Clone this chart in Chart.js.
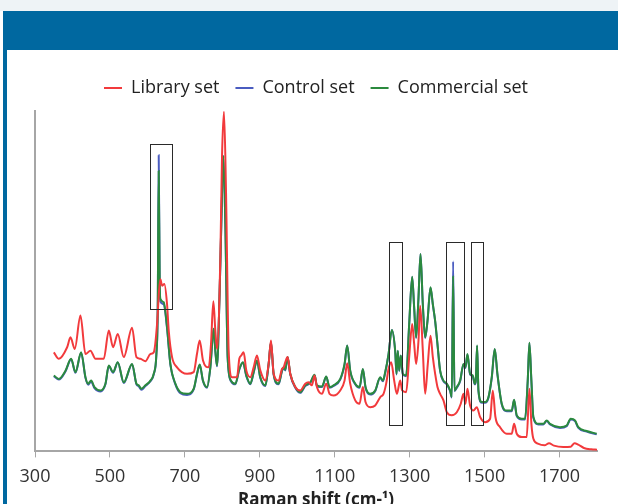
<!DOCTYPE html>
<html>
<head>
<meta charset="utf-8">
<script src="https://cdn.jsdelivr.net/npm/chart.js@4.4.0/dist/chart.umd.min.js"></script>
<style>
  html, body { margin: 0; padding: 0; background: #fff; overflow: hidden; }
  #page { position: relative; width: 618px; height: 504px; overflow: hidden; }
  #topStrip { position: absolute; left: 0; top: 0; width: 618px; height: 11px; background: #eef3f6; }
  #header { position: absolute; left: 3px; top: 11px; width: 615px; height: 39px; background: #0068a0; }
  #sideBar { position: absolute; left: 3px; top: 50px; width: 4px; height: 454px; background: #0068a0; }
  #chartBox { position: absolute; left: 7px; top: 50px; width: 611px; height: 459px; }
</style>
</head>
<body>
<div id="page">
  <div id="topStrip"></div>
  <div id="header"></div>
  <div id="sideBar"></div>
  <div id="chartBox"><canvas id="chart" width="611" height="459"></canvas></div>
</div>
<script>
// x ticks shown under the axis
const tickValues = [300, 500, 700, 900, 1100, 1300, 1500, 1700];

// [Raman shift, intensity]
const librarySet = [
  [350.2,29.1],[363.6,27.2],[385.8,30.6],[394.7,33.5],[406.2,30.1],[421.3,39.9],[434.7,28.6],[448,29.6],[461.3,27.2],[483.6,27.2],
  [496.9,35.5],[508.4,30.6],[520.9,34.5],[536.9,27.7],[559.1,36.3],[570.7,27.7],[581.3,27.2],[594.7,26.5],[608,28.6],[616.9,29.1],
  [625.8,37.4],[631.1,47.2],[634.7,50.6],[639.1,48.7],[645.3,49.2],[652.4,43.3],[656.9,35.5],[665.8,27.7],[679.1,24.7],[705.8,22.8],
  [723.6,23.3],[732.4,28.7],[739.6,32.6],[748.4,26.7],[763.6,24.7],[769.8,31.6],[776,44.1],[781.3,35.5],[785.8,30.1],[794.7,57],
  [799.1,86.3],[804.4,99.8],[809.8,76.5],[816.9,29.6],[825.8,21.8],[839.1,21.8],[845.3,27.2],[850.7,28.2],[856.9,29.1],[864,23.8],
  [874.7,21.8],[883.6,24.7],[892.4,28.2],[901.3,23.8],[914.7,20.8],[923.6,25.7],[929.8,32.6],[936.9,22.8],[950.2,20.8],[959.1,24.2],
  [963.6,24.7],[968,26.2],[974.2,27.7],[981.3,22.8],[994.7,18.9],[1008,17.9],[1021.3,19.9],[1030.2,20.3],[1039.1,19.4],[1046.2,22.3],
  [1052.4,18.9],[1065.8,16.9],[1077.3,19.9],[1086.2,16.9],[1096.9,16.4],[1114.7,17.9],[1126.2,20.8],[1133.3,25.9],[1141.3,19.9],[1154.7,15],
  [1166.2,14],[1175.1,18.9],[1182.2,14.5],[1194.7,13],[1208,13.5],[1221.3,15.9],[1230.2,16.9],[1237.3,19.9],[1243.6,24.2],[1250.7,26.2],
  [1258.7,20.8],[1265.8,16.9],[1274.7,20.8],[1280,17.9],[1290.7,17.4],[1298.7,27.7],[1306.7,37.4],[1312,31.6],[1317.3,25.7],[1323.6,32.6],
  [1328,42.8],[1335.1,29.6],[1341.3,16.9],[1348.4,25.7],[1355.6,34],[1361.8,27.7],[1368,22.8],[1374.2,18.9],[1381.3,16.9],[1390.2,15],
  [1399.1,11.5],[1412.4,10.6],[1425.8,11.5],[1436.4,14],[1443.6,16.9],[1448.9,14],[1454.2,18.4],[1461.3,13.5],[1470.2,12],[1479.1,13],
  [1488,10.1],[1501.3,8.6],[1514.7,9.6],[1521.8,17.9],[1528.9,10.1],[1541.3,7.1],[1559.1,5.2],[1572.4,5.2],[1578.7,8.1],[1585.8,5.2],
  [1599.1,4.2],[1612.4,4.2],[1619.6,18.4],[1624.9,8.1],[1630.2,3.7],[1642,2.3],[1660,1.8],[1672,2.4],[1685,1.7],[1710,1.3],
  [1730,1.4],[1740,2.4],[1750,2],[1765,1],[1785,0.6],[1800,0.5]
];

const controlSet = [
  [350.2,22.1],[363.6,21.1],[381.3,23.5],[396.4,27.1],[408,23.1],[423.1,29],[434.7,21.6],[441.8,19.6],[449.8,20.5],[458.7,18.6],
  [474.7,17.6],[488,19.7],[496.9,25.1],[508.4,23.1],[520.9,26.1],[536.9,20.1],[559.1,25.6],[570.7,19.7],[576.9,19.1],[584,18.1],
  [594.7,19.2],[608,20.6],[616.9,22.6],[624,28.5],[627.6,42.3],[630.2,87],[632.9,48.5],[634.7,44],[643.6,43.2],[652.4,36.2],
  [661.3,25.5],[674.7,19.7],[688,17.1],[705.8,16.6],[723.6,18.2],[732.4,22.6],[739.6,25.4],[748.4,20.6],[759.1,18.7],[768,24.6],
  [776.9,36],[781.3,29.4],[785.8,25],[792.9,47.2],[797.3,66.8],[802.7,86.8],[808,66.8],[814.2,27.5],[823.1,20.6],[834.7,19.7],
  [845.3,24],[855.1,26.1],[864,22.1],[874.7,19.7],[883.6,23.1],[892.4,26.6],[901.3,21.6],[914.7,19.2],[923.6,25.6],[929.8,32.1],
  [936.9,22.6],[950.2,19.7],[959.1,23.5],[963.6,24.5],[968,23.8],[974.2,27.6],[981.3,22.6],[994.7,18.7],[1008,17.2],[1021.3,19.2],
  [1034.7,20.1],[1046.2,22.4],[1052.4,19.2],[1065.8,18.9],[1077.3,21.9],[1086.2,18.7],[1096.9,19.2],[1114.7,21.1],[1126.2,25.5],[1133.3,31.1],
  [1141.3,23.6],[1154.7,19.7],[1166.2,18.7],[1175.1,24.1],[1182.2,18.7],[1194.7,16.7],[1208,17.7],[1221.3,21.6],[1228.4,20.6],[1234.7,23.1],
  [1243.6,28.5],[1252.4,35.7],[1261.3,29.5],[1264.9,22.6],[1268.4,29.5],[1272,23.6],[1276.4,28.1],[1281.8,22.6],[1290.7,22.1],[1298.7,37.3],
  [1306.7,51.2],[1312,42.1],[1317.3,33.3],[1323.6,45.2],[1328.9,58],[1335.1,43.1],[1341.3,33.3],[1347.6,38.3],[1355.6,48.1],[1361.8,43.1],
  [1368,38.2],[1374.2,31.4],[1381.3,23.6],[1390.2,20.6],[1399.1,19.7],[1408,17.7],[1412.4,15.8],[1416,55.8],[1419.6,17.7],[1425.8,18.7],
  [1434.7,20.6],[1443.6,25.5],[1448.9,24.5],[1454.2,28.5],[1461.3,22.6],[1468.4,22.1],[1473.8,19.7],[1476.4,20.6],[1480,31],[1483.6,17.7],
  [1492.4,14.3],[1501.3,14.3],[1510.2,15.7],[1519.1,21.6],[1527.1,30],[1534.2,22.6],[1545.8,13.8],[1559.1,11.8],[1572.4,11.8],[1578.7,15],
  [1585.8,10.4],[1599.1,9.4],[1608,9.4],[1615.1,20.6],[1619.6,31.8],[1624.9,20.6],[1630.2,9.9],[1643.6,7.9],[1656.9,7.9],[1665.8,8.9],
  [1674.7,7.9],[1701.3,6.9],[1719.1,7.4],[1729.8,9.4],[1741.3,8.9],[1750.2,6.9],[1772.4,5.8],[1799.1,5]
];

const commercialSet = [
  [350.2,22.3],[363.6,21.3],[381.3,23.7],[396.4,27.2],[408,23.3],[423.1,29.1],[434.7,21.8],[441.8,19.9],[449.8,20.8],[458.7,18.9],
  [474.7,17.9],[488,19.9],[496.9,25.2],[508.4,23.3],[520.9,26.2],[536.9,20.3],[559.1,25.7],[570.7,19.9],[576.9,19.4],[584,18.4],
  [594.7,19.4],[608,20.8],[616.9,22.8],[624,28.6],[627.6,42.3],[630.2,82.4],[632.9,49.2],[634.7,44.8],[643.6,43.8],[652.4,36.5],
  [661.3,25.7],[674.7,19.9],[688,17.4],[705.8,16.9],[723.6,18.4],[732.4,22.8],[739.6,25.5],[748.4,20.8],[759.1,18.9],[768,24.7],
  [776.9,36],[781.3,29.6],[785.8,25.2],[792.9,47.2],[797.3,66.8],[802.7,86.8],[808,66.8],[814.2,27.7],[823.1,20.8],[834.7,19.9],
  [845.3,24.2],[855.1,26.2],[864,22.3],[874.7,19.9],[883.6,23.3],[892.4,26.7],[901.3,21.8],[914.7,19.4],[923.6,25.7],[929.8,32.1],
  [936.9,22.8],[950.2,19.9],[959.1,23.7],[963.6,24.7],[968,24],[974.2,27.7],[981.3,22.8],[994.7,18.9],[1008,17.4],[1021.3,19.4],
  [1034.7,20.3],[1046.2,22.5],[1052.4,19.4],[1065.8,19.1],[1077.3,22],[1086.2,18.9],[1096.9,19.4],[1114.7,21.3],[1126.2,25.7],[1133.3,31.1],
  [1141.3,23.8],[1154.7,19.9],[1166.2,18.9],[1175.1,24.2],[1182.2,18.9],[1194.7,16.9],[1208,17.9],[1221.3,21.8],[1228.4,20.8],[1234.7,23.3],
  [1243.6,28.6],[1252.4,35.7],[1261.3,29.6],[1264.9,22.8],[1268.4,29.6],[1272,23.8],[1276.4,28.2],[1281.8,22.8],[1290.7,22.3],[1298.7,37.4],
  [1306.7,51.3],[1312,42.3],[1317.3,33.5],[1323.6,45.3],[1328.9,58],[1335.1,43.3],[1341.3,33.5],[1347.6,38.4],[1355.6,48.2],[1361.8,43.3],
  [1368,38.4],[1374.2,31.6],[1381.3,23.8],[1390.2,20.8],[1399.1,19.9],[1408,17.9],[1412.4,16],[1416,51.6],[1419.6,17.9],[1425.8,18.9],
  [1434.7,20.8],[1443.6,25.7],[1448.9,24.7],[1454.2,28.6],[1461.3,22.8],[1468.4,22.3],[1473.8,19.9],[1476.4,20.8],[1480,31.1],[1483.6,17.9],
  [1492.4,14.5],[1501.3,14.5],[1510.2,15.9],[1519.1,21.8],[1527.1,30.1],[1534.2,22.8],[1545.8,14],[1559.1,12],[1572.4,12],[1578.7,15.2],
  [1585.8,10.6],[1599.1,9.6],[1608,9.6],[1615.1,20.8],[1619.6,31.9],[1624.9,20.8],[1630.2,10.1],[1643.6,8.1],[1656.9,8.1],[1665.8,9.1],
  [1674.7,8.1],[1701.3,7.1],[1719.1,7.6],[1729.8,9.6],[1741.3,9.1],[1750.2,7.1],[1772.4,6],[1799.1,5.2]
];

// highlight boxes (shift range, intensity range)
const boxFrom = [606, 1246, 1396, 1465];
const boxTo = [666, 1279, 1444, 1497];
const boxTop = [90.2, 61.6, 61.6, 61.6];
const boxBottom = [41.8, 7.8, 7.8, 7.8];

const FONT = "'Open Sans', 'Noto Sans', sans-serif";

const boxPlugin = {
  id: 'boxes',
  afterDatasetsDraw(chart) {
    const { ctx } = chart;
    const xs = chart.scales.x, ys = chart.scales.y;
    ctx.save();
    ctx.strokeStyle = '#2a2a2a';
    ctx.lineWidth = 1;
    for (let i = 0; i < boxFrom.length; i++) {
      const l = Math.round(xs.getPixelForValue(boxFrom[i])) + 0.5;
      const r = Math.round(xs.getPixelForValue(boxTo[i])) + 0.5;
      const t = Math.round(ys.getPixelForValue(boxTop[i])) + 0.5;
      const b = Math.round(ys.getPixelForValue(boxBottom[i])) + 0.5;
      ctx.strokeRect(l, t, r - l, b - t);
    }
    ctx.restore();
  }
};

// a bit more room under the legend
const legendGap = {
  id: 'legendGap',
  beforeInit(chart) {
    const fit = chart.legend.fit;
    chart.legend.fit = function () {
      fit.bind(chart.legend)();
      this.height += 4;
    };
  }
};

const line = (label, data, color, order) => ({
  label: label,
  data: data,
  borderColor: color,
  backgroundColor: color,
  borderWidth: 2,
  pointRadius: 0,
  cubicInterpolationMode: 'monotone',
  order: order,
});

new Chart(document.getElementById('chart').getContext('2d'), {
  type: 'line',
  data: {
    datasets: [
      line('Library set', librarySet, '#f23a3c', 0),
      line('Control set', controlSet, '#4a5cc0', 2),
      line('Commercial set', commercialSet, '#2b8a3e', 1),
    ],
  },
  options: {
    responsive: false,
    animation: false,
    devicePixelRatio: 1,
    layout: { padding: { left: 28, right: 21, top: 13, bottom: 0 } },
    plugins: {
      legend: {
        position: 'top',
        labels: {
          usePointStyle: true,
          pointStyle: 'line',
          pointStyleWidth: 18,
          boxWidth: 18,
          padding: 16,
          color: '#222',
          font: { family: FONT, size: 18 },
          sort: (a, b) => a.datasetIndex - b.datasetIndex,
        },
      },
      tooltip: { enabled: false },
    },
    scales: {
      x: {
        type: 'linear',
        min: 300,
        max: 1800,
        afterBuildTicks: axis => { axis.ticks = tickValues.map(v => ({ value: v })); },
        border: { color: '#a6a6a6', width: 2 },
        grid: { drawOnChartArea: false, drawTicks: true, tickLength: 6, color: '#a6a6a6', lineWidth: 1 },
        ticks: { color: '#333', font: { family: FONT, size: 18 }, padding: 9, maxRotation: 0, callback: v => String(v) },
        title: {
          display: true,
          text: 'Raman shift (cm-¹)',
          color: '#222',
          font: { family: FONT, size: 17, weight: 'bold', lineHeight: 1 },
          padding: { top: -5, bottom: 0 },
        },
      },
      y: {
        min: 0,
        max: 100,
        border: { color: '#a6a6a6', width: 2 },
        grid: { display: false, drawTicks: false },
        ticks: { display: false },
      },
    },
  },
  plugins: [boxPlugin, legendGap],
});
</script>
</body>
</html>
